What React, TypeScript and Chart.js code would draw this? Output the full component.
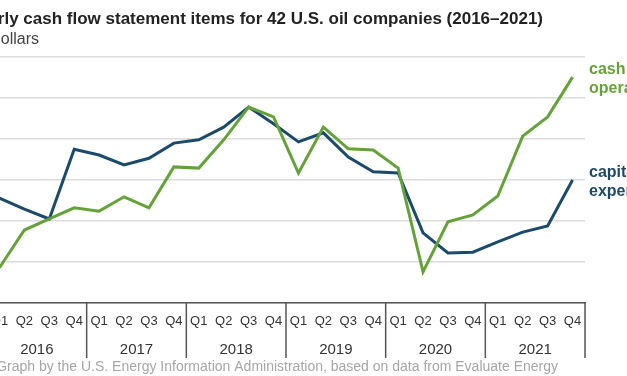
import { useEffect, useRef } from "react";
import Chart from "chart.js/auto";

const years = ["2016", "2017", "2018", "2019", "2020", "2021"];
const quarters = ["Q1", "Q2", "Q3", "Q4"];
const cashFromOperations = [
  8.6, 17.8, 20.5, 23.2, 22.4, 25.9, 23.2, 33.2, 32.9, 39.8, 47.8, 45.4,
  31.7, 42.9, 37.6, 37.3, 32.9, 7.6, 19.8, 21.5, 26.1, 40.7, 45.4, 55.1,
];
const capitalExpenditures = [
  25.6, 22.9, 20.5, 37.5, 36.1, 33.7, 35.3, 39.0, 39.8, 42.9, 47.8, 43.7,
  39.3, 41.5, 35.6, 32.0, 31.7, 17.1, 12.2, 12.4, 14.9, 17.3, 18.8, 30.0,
];
const yTicks = [0, 10, 20, 30, 40, 50, 60];

const titleText =
  "Quarterly cash flow statement items for 42 U.S. oil companies (2016\u20132021)";
const unitText = "billion dollars";
const sourceText =
  "Source: Graph by the U.S. Energy Information Administration, based on data from Evaluate Energy";

const GREEN = "#65a33a";
const BLUE = "#1b4a6b";
const OFFSET = 53;
const FONT = '"Liberation Sans", Arial, sans-serif';

export default function App() {
  const ref = useRef<HTMLCanvasElement | null>(null);

  useEffect(() => {
    if (!ref.current) return;
    const labels = years.flatMap(() => quarters);

    const textPlugin = {
      id: "texts",
      afterDraw(chart: any) {
        const ctx = chart.ctx;
        const area = chart.chartArea;
        const xs = chart.scales.x;
        const ys = chart.scales.year;
        const yv = chart.scales.y;
        ctx.save();
        // titles
        ctx.textBaseline = "middle";
        ctx.textAlign = "right";
        ctx.fillStyle = "#222";
        ctx.font = `bold 17px ${FONT}`;
        ctx.fillText(titleText, 543 + OFFSET, 19);
        ctx.fillStyle = "#444";
        ctx.font = `16px ${FONT}`;
        ctx.fillText(unitText, 39 + OFFSET, 40);
        ctx.fillStyle = "#a6a6a6";
        ctx.font = `14px ${FONT}`;
        ctx.fillText(sourceText, 558 + OFFSET, 367);

        // year separators
        const half = (xs.getPixelForValue(1) - xs.getPixelForValue(0)) / 2;
        ctx.strokeStyle = "#555";
        ctx.lineWidth = 1.5;
        for (let k = 0; k <= years.length; k++) {
          const idx = k * quarters.length;
          const x =
            idx < labels.length
              ? xs.getPixelForValue(idx) - half
              : xs.getPixelForValue(labels.length - 1) + half;
          ctx.beginPath();
          ctx.moveTo(x, xs.top);
          ctx.lineTo(x, ys.bottom);
          ctx.stroke();
        }

        // line labels
        ctx.textAlign = "left";
        ctx.font = `bold 16px ${FONT}`;
        const gy = yv.getPixelForValue(cashFromOperations[cashFromOperations.length - 1]);
        ctx.fillStyle = GREEN;
        ctx.fillText("cash from", area.right + 4, gy - 7);
        ctx.fillText("operations", area.right + 4, gy + 12);
        const by = yv.getPixelForValue(capitalExpenditures[capitalExpenditures.length - 1]);
        ctx.fillStyle = BLUE;
        ctx.fillText("capital", area.right + 4, by - 7);
        ctx.fillText("expenditures", area.right + 4, by + 12);
        ctx.restore();
      },
    };

    const chart = new Chart(ref.current, {
      type: "line",
      data: {
        labels,
        datasets: [
          {
            label: "cash from operations",
            data: cashFromOperations,
            borderColor: GREEN,
            borderWidth: 3,
            pointRadius: 0,
            tension: 0,
            xAxisID: "x",
          },
          {
            label: "capital expenditures",
            data: capitalExpenditures,
            borderColor: BLUE,
            borderWidth: 3,
            pointRadius: 0,
            tension: 0,
            xAxisID: "x",
          },
        ],
      },
      options: {
        responsive: false,
        animation: false,
        layout: { padding: { top: 57, bottom: 18, left: 0, right: 102 } },
        plugins: {
          legend: { display: false },
          title: { display: false },
          tooltip: { enabled: false },
        },
        scales: {
          x: {
            type: "category",
            position: "bottom",
            offset: true,
            weight: 0,
            grid: { display: true, drawOnChartArea: false, drawTicks: false },
            border: { display: true, color: "#555", width: 1.5 },
            ticks: {
              autoSkip: false,
              maxRotation: 0,
              padding: 11,
              color: "#333",
              font: { family: FONT, size: 13 },
            },
            afterFit: (s: any) => {
              s.height = 27;
            },
          },
          year: {
            type: "category",
            labels: years,
            position: "bottom",
            offset: true,
            weight: 1,
            grid: { display: false, drawTicks: false },
            border: { display: false },
            ticks: {
              autoSkip: false,
              maxRotation: 0,
              padding: 11,
              color: "#333",
              font: { family: FONT, size: 15 },
            },
            afterFit: (s: any) => {
              s.height = 28;
            },
          },
          y: {
            min: yTicks[0],
            max: yTicks[yTicks.length - 1],
            afterBuildTicks: (s: any) => {
              s.ticks = yTicks.map((v) => ({ value: v }));
            },
            grid: { color: "#dcdcdc", lineWidth: 1.5, drawTicks: false },
            border: { display: false },
            ticks: { color: "#333", font: { family: FONT, size: 12 } },
            afterFit: (s: any) => {
              s.width = 40;
            },
          },
        },
      },
      plugins: [textPlugin],
    });
    return () => chart.destroy();
  }, []);

  return (
    <div
      style={{
        position: "fixed",
        left: 0,
        top: 0,
        width: 627,
        height: 376,
        overflow: "hidden",
        background: "#fff",
      }}
    >
      <canvas
        ref={ref}
        width={740}
        height={376}
        style={{ position: "absolute", left: -OFFSET, top: 0 }}
      />
    </div>
  );
}
